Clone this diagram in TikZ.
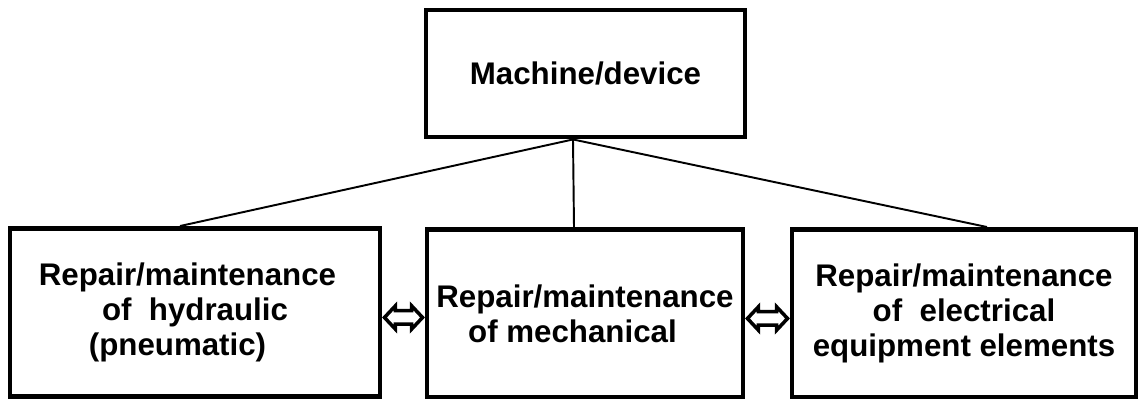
\documentclass[tikz,border=0pt]{standalone}
\usepackage{fontspec}
\setmainfont{Liberation Sans}
\usetikzlibrary{calc}
\tikzset{
  unit/.style={draw, line width=2.8pt, minimum height=3.36cm, align=center, inner sep=0pt,
    font=\bfseries\fontsize{17.8}{19.8}\selectfont},
  link/.style={line width=1.1pt},
  both/.style={line width=2pt, line join=miter}
}
\begin{document}
\begin{tikzpicture}
\useasboundingbox (0,0) rectangle (22.8,7.98);
\node[unit, minimum width=6.38cm, minimum height=2.54cm] (machine) at (11.71,6.51) {Machine/device};
\node[unit, minimum width=7.4cm] (hydr) at (3.9,1.73) {Repair/maintenance\hspace*{0.3cm}\\of~~hydraulic\hspace*{0.3cm}\\(pneumatic)\hspace*{0.7cm}};
\node[unit, minimum width=6.32cm] (mech) at (11.70,1.71) {Repair/maintenance\\of mechanical\hspace*{0.5cm}};
\node[unit, minimum width=6.88cm] (elec) at (19.28,1.71) {Repair/maintenance\\of~~electrical\hspace*{0.7cm}\\equipment elements};
\draw[link] ([xshift=-2.5mm]machine.south) -- ([xshift=-3mm]hydr.north);
\draw[link] ([xshift=-2.5mm]machine.south) -- ([xshift=-2.2mm]mech.north);
\draw[link] ([xshift=-2.5mm]machine.south) -- ([xshift=4.6mm]elec.north);
% hollow double arrows between the lower boxes
\foreach \u/\v in {hydr/mech, mech/elec} {
  \coordinate (a) at ($(\u.east)+(0.04,-0.1)$);
  \coordinate (b) at ($(\v.west |- a)+(-0.04,0)$);
  \draw[both] (a) -- ++(0.22,0.235) -- ++(0,-0.1) -- ($(b)+(-0.22,0.135)$) -- ++(0,0.1)
    -- (b) -- ++(-0.22,-0.235) -- ++(0,0.1) -- ($(a)+(0.22,-0.135)$) -- ++(0,-0.1) -- cycle;
}
\end{tikzpicture}
\end{document}
